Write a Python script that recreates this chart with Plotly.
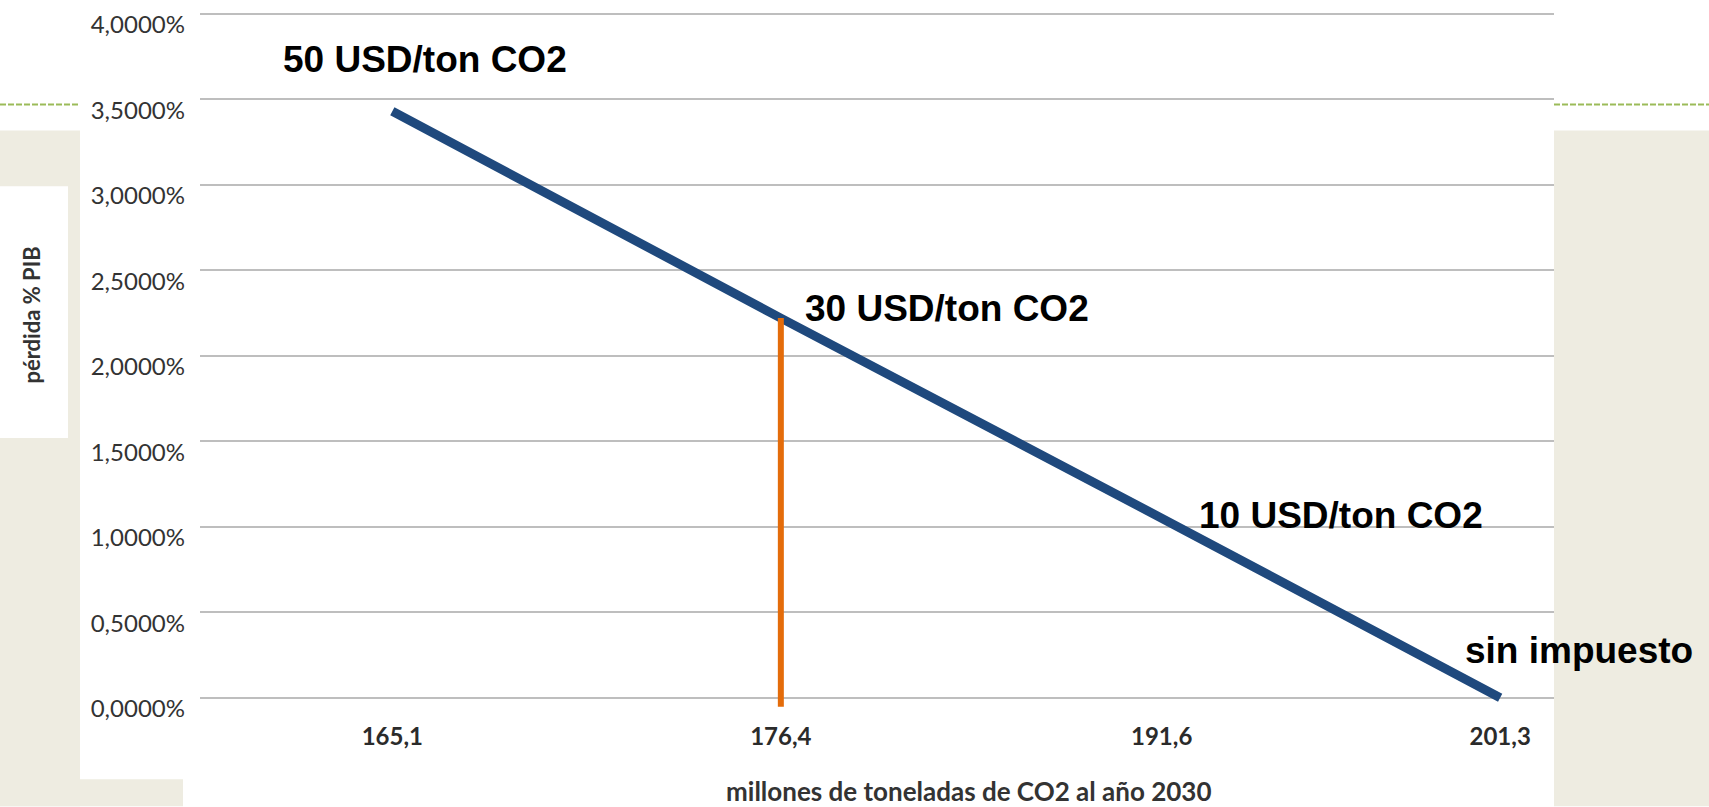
import plotly.graph_objects as go

# ---- data ----
categories = ["165,1", "176,4", "191,6", "201,3"]          # millones de toneladas de CO2 al año 2030
cat_axis_pos = [1.0, 2.01, 3.0, 3.88]                       # where each category sits on the horizontal axis
pib_loss = [0.0343, 0.0222, 0.0105, 0.0]                    # pérdida % PIB
price_labels = ["50 USD/ton CO2", "30 USD/ton CO2", "10 USD/ton CO2", "sin impuesto"]
highlight_index = 1                                         # 30 USD/ton CO2 marker
y_ticks = [0.0, 0.005, 0.01, 0.015, 0.02, 0.025, 0.03, 0.035, 0.04]

# ---- layout geometry (pixels) ----
FW, FH = 1709, 807
L, R, T = 200, 1554, 9
YMIN, YMAX = -0.0006, 0.0401
B = 708.3
PW, PH = R - L, B - T


def px_x(px):
    return (px - L) / PW


def px_y(py):
    return (B - py) / PH


fig = go.Figure()

fig.add_trace(go.Scatter(
    x=cat_axis_pos, y=pib_loss, mode="lines",
    line=dict(color="#1F497D", width=9), hoverinfo="skip", showlegend=False,
))
fig.add_trace(go.Scatter(
    x=[cat_axis_pos[highlight_index]] * 2, y=[YMIN + 0.00007, pib_loss[highlight_index]],
    mode="lines", line=dict(color="#E46C0A", width=6), hoverinfo="skip", showlegend=False,
))

# label offsets (pixels) for the price annotations
label_shift = [(-111, 52), (22, 10), (35, 3), (-37, 47)]
for i, txt in enumerate(price_labels):
    fig.add_annotation(
        x=cat_axis_pos[i], y=pib_loss[i], xref="x", yref="y", text=txt,
        showarrow=False, xanchor="left", yanchor="middle",
        xshift=label_shift[i][0], yshift=label_shift[i][1],
        font=dict(family="Liberation Sans, Arial", size=37, color="#000000", weight="bold"),
    )

# axis titles
fig.add_annotation(
    x=px_x(32), y=px_y(314), xref="paper", yref="paper", text="pérdida % PIB",
    textangle=-90, showarrow=False, xanchor="center", yanchor="middle",
    font=dict(family="Lato", size=22, color="#333333", weight="bold"),
)
fig.add_annotation(
    x=px_x(968), y=px_y(792), xref="paper", yref="paper",
    text="millones de toneladas de CO2 al año 2030",
    showarrow=False, xanchor="center", yanchor="middle",
    font=dict(family="Lato", size=26, color="#333333", weight="bold"),
)

# slide decoration
beige = "#EEECE1"
rects = [
    (0, 128, 80, 807, beige),
    (0, 780, 183, 807, beige),
    (1554, 128, 1709, 807, beige),
    (0, 184, 68, 437, "#FFFFFF"),
]
for x0, y0, x1, y1, c in rects:
    fig.add_shape(type="rect", xref="paper", yref="paper",
                  x0=px_x(x0), x1=px_x(x1), y0=px_y(y1), y1=px_y(y0),
                  fillcolor=c, line=dict(width=0), layer="below")
for x0, x1 in [(0, 80), (1554, 1709)]:
    fig.add_shape(type="line", xref="paper", yref="paper",
                  x0=px_x(x0), x1=px_x(x1), y0=px_y(102), y1=px_y(102),
                  line=dict(color="#9BBB59", width=2, dash="6px,2px"), layer="below")

fig.update_layout(
    width=FW, height=FH, autosize=False,
    margin=dict(l=L, r=FW - R, t=T, b=round(FH - B), pad=0),
    paper_bgcolor="#FFFFFF", plot_bgcolor="#FFFFFF",
    separators=",.",
    showlegend=False,
)
fig.update_xaxes(
    range=[0.5, 4.02], tickvals=cat_axis_pos, ticktext=categories,
    showgrid=False, zeroline=False, showline=False, ticks="",
    ticklabelstandoff=12,
    tickfont=dict(family="Lato", size=24, color="#2b2b2b", weight="bold"),
)
fig.update_yaxes(
    range=[YMIN, YMAX], tickvals=y_ticks, tickformat=".4%",
    showgrid=True, gridcolor="#BEBEBE", gridwidth=2,
    zeroline=False, showline=False, ticks="",
    ticklabelstandoff=14, ticklabelshift=11,
    tickfont=dict(family="Lato", size=24, color="#333333"),
)

fig.write_html(
    "out.html",
    config={"displayModeBar": False},
    post_script="document.body.style.margin='0';document.body.style.overflow='hidden';",
)
